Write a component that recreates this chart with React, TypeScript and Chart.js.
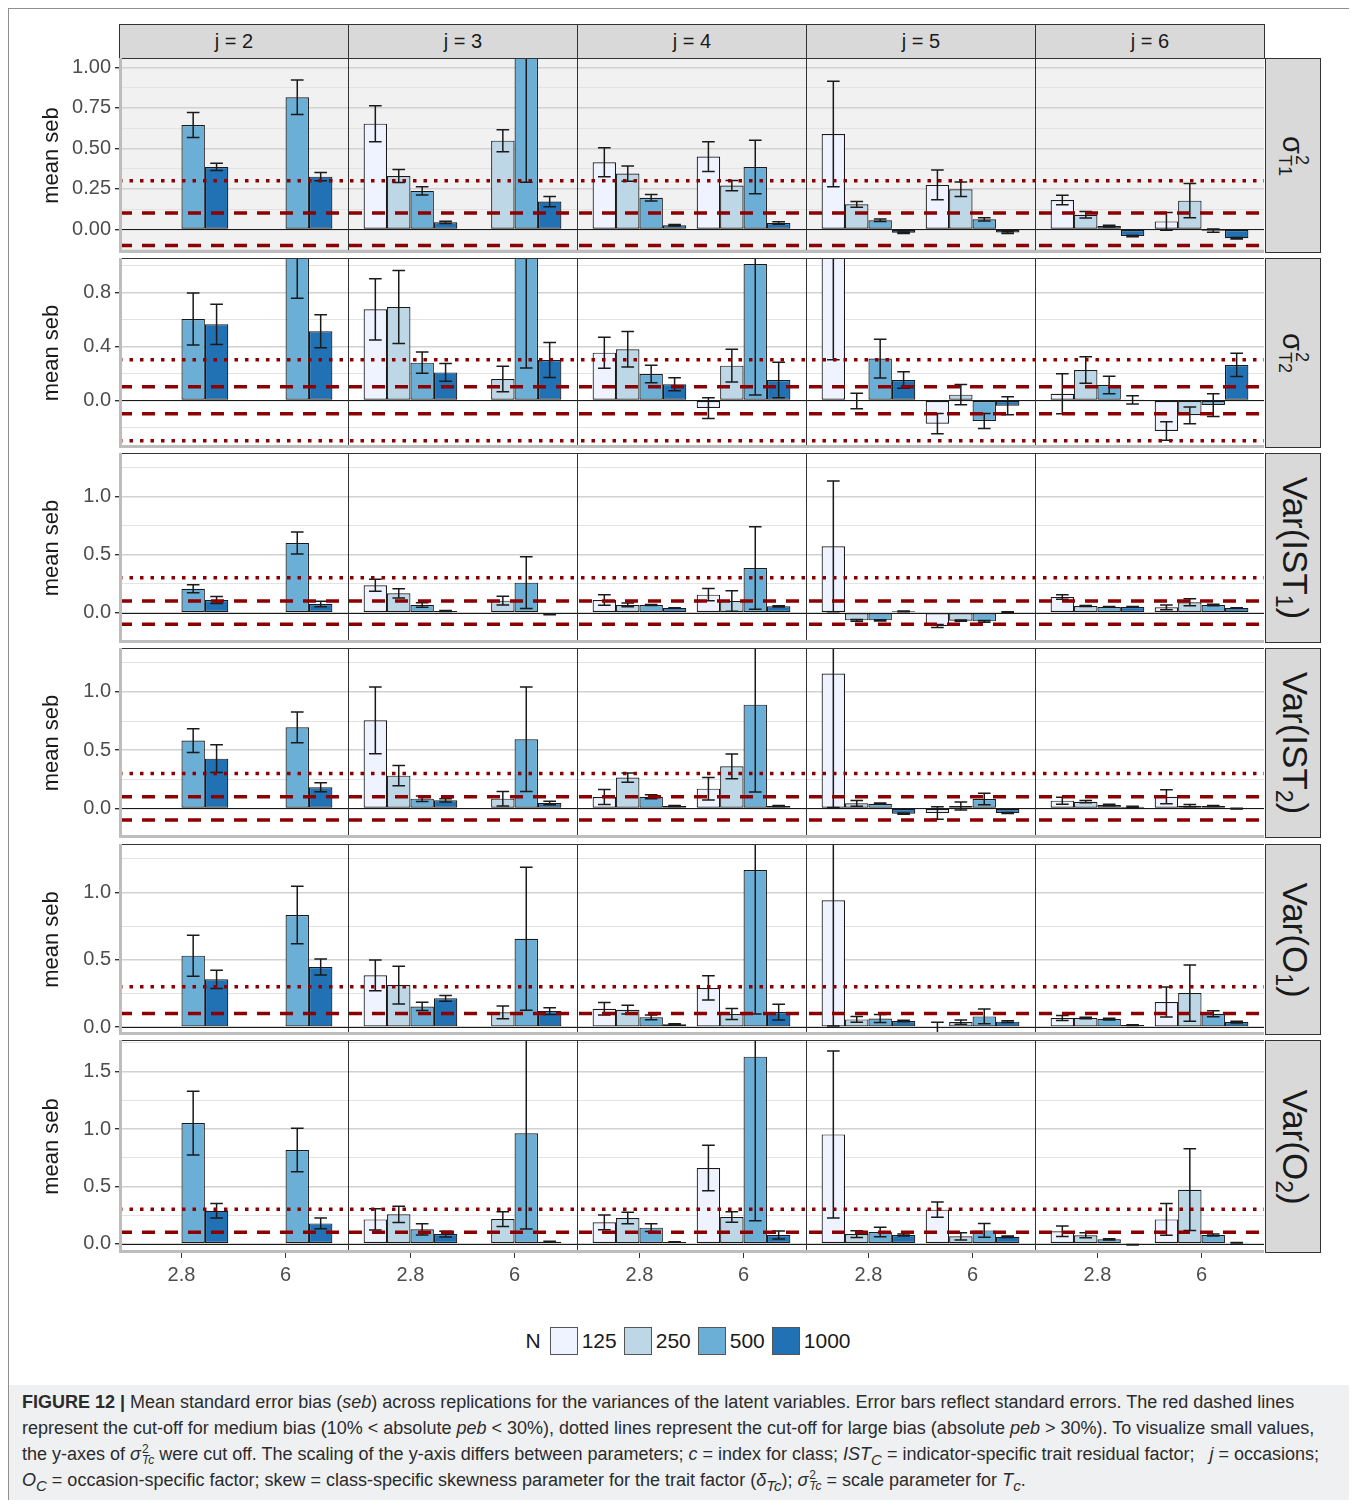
import React, { useEffect, useRef } from 'react';
import { Chart, registerables } from 'chart.js';

Chart.register(...registerables);

const FONT = '"Liberation Sans", Arial, Helvetica, sans-serif';

// ---- facets and groups ----
const occasions = ['j = 2', 'j = 3', 'j = 4', 'j = 5', 'j = 6'];
const skewLabels = ['2.8', '6'];
const skewPositions = [1, 2];
const sampleSizes = ['125', '250', '500', '1000'];

// ---- mean seb per parameter: [occasion][N][skew 2.8, skew 6] ----
const sigmaT1Mean = [
  [[null, null], [null, null], [0.644, 0.815], [0.385, 0.325]],
  [[0.652, null], [0.329, 0.547], [0.237, 1.6], [0.043, 0.171]],
  [[0.414, 0.449], [0.344, 0.27], [0.195, 0.385], [0.025, 0.039]],
  [[0.588, 0.274], [0.154, 0.247], [0.056, 0.062], [-0.021, -0.02]],
  [[0.181, 0.049], [0.09, 0.177], [0.02, -0.008], [-0.041, -0.055]],
];
const sigmaT1Se = [
  [[null, null], [null, null], [0.077, 0.106], [0.022, 0.025]],
  [[0.111, null], [0.04, 0.068], [0.025, 1.31], [0.007, 0.032]],
  [[0.09, 0.092], [0.047, 0.032], [0.02, 0.165], [0.005, 0.008]],
  [[0.326, 0.092], [0.017, 0.045], [0.008, 0.01], [0.005, 0.005]],
  [[0.03, 0.055], [0.02, 0.105], [0.005, 0.01], [0.005, 0.005]],
];

const sigmaT2Mean = [
  [[null, null], [null, null], [0.602, 1.3], [0.563, 0.511]],
  [[0.674, null], [0.691, 0.158], [0.279, 1.8], [0.207, 0.299]],
  [[0.353, -0.057], [0.378, 0.257], [0.195, 1.01], [0.119, 0.151]],
  [[1.9, -0.173], [-0.005, 0.042], [0.309, -0.153], [0.151, -0.04]],
  [[0.049, -0.227], [0.225, -0.111], [0.114, -0.035], [0.003, 0.262]],
];
const sigmaT2Se = [
  [[null, null], [null, null], [0.193, 0.544], [0.149, 0.122]],
  [[0.227, null], [0.27, 0.094], [0.079, 1.56], [0.066, 0.13]],
  [[0.115, 0.077], [0.131, 0.121], [0.064, 0.97], [0.048, 0.131]],
  [[1.6, 0.075], [0.057, 0.075], [0.143, 0.056], [0.061, 0.066]],
  [[0.148, 0.069], [0.098, 0.062], [0.065, 0.084], [0.03, 0.086]],
];

const varIST1Mean = [
  [[null, null], [null, null], [0.206, 0.599], [0.109, 0.074]],
  [[0.235, null], [0.166, 0.103], [0.066, 0.258], [0.014, -0.014]],
  [[0.109, 0.155], [0.066, 0.1], [0.066, 0.384], [0.04, 0.054]],
  [[0.57, -0.115], [-0.066, -0.069], [-0.066, -0.075], [0.011, 0.006]],
  [[0.135, 0.046], [0.057, 0.089], [0.049, 0.066], [0.049, 0.04]],
];
const varIST1Se = [
  [[null, null], [null, null], [0.034, 0.095], [0.03, 0.024]],
  [[0.052, null], [0.04, 0.037], [0.02, 0.222], [0.005, 0.004]],
  [[0.046, 0.053], [0.016, 0.089], [0.005, 0.355], [0.003, 0.006]],
  [[0.562, 0.013], [0.007, 0.006], [0.005, 0.007], [0.003, 0.002]],
  [[0.02, 0.02], [0.005, 0.03], [0.003, 0.006], [0.003, 0.003]],
];

const varIST2Mean = [
  [[null, null], [null, null], [0.582, 0.696], [0.427, 0.181]],
  [[0.756, null], [0.281, 0.083], [0.083, 0.593], [0.069, 0.046]],
  [[0.097, 0.169], [0.264, 0.361], [0.1, 0.891], [0.02, 0.02]],
  [[1.158, -0.04], [0.043, 0.02], [0.04, 0.08], [-0.046, -0.04]],
  [[0.066, 0.1], [0.057, 0.023], [0.029, 0.02], [0.014, -0.003]],
];
const varIST2Se = [
  [[null, null], [null, null], [0.102, 0.132], [0.12, 0.039]],
  [[0.287, null], [0.087, 0.062], [0.024, 0.449], [0.014, 0.015]],
  [[0.064, 0.097], [0.039, 0.106], [0.017, 0.75], [0.004, 0.004]],
  [[1.15, 0.053], [0.025, 0.035], [0.006, 0.049], [0.005, 0.005]],
  [[0.03, 0.06], [0.01, 0.01], [0.006, 0.004], [0.004, 0.003]],
];

const varO1Mean = [
  [[null, null], [null, null], [0.53, 0.832], [0.354, 0.446]],
  [[0.384, null], [0.312, 0.109], [0.153, 0.656], [0.213, 0.119]],
  [[0.136, 0.29], [0.129, 0.097], [0.072, 1.166], [0.02, 0.111]],
  [[0.941, -0.004], [0.057, 0.037], [0.064, 0.079], [0.045, 0.04]],
  [[0.067, 0.186], [0.067, 0.252], [0.059, 0.099], [0.015, 0.037]],
];
const varO1Se = [
  [[null, null], [null, null], [0.152, 0.214], [0.068, 0.059]],
  [[0.114, null], [0.14, 0.047], [0.031, 0.531], [0.022, 0.025]],
  [[0.046, 0.09], [0.032, 0.04], [0.017, 1.07], [0.004, 0.059]],
  [[0.933, 0.039], [0.021, 0.016], [0.03, 0.055], [0.006, 0.006]],
  [[0.018, 0.111], [0.006, 0.208], [0.006, 0.022], [0.003, 0.006]],
];

const varO2Mean = [
  [[null, null], [null, null], [1.052, 0.817], [0.288, 0.177]],
  [[0.212, null], [0.256, 0.215], [0.125, 0.962], [0.084, 0.017]],
  [[0.186, 0.66], [0.224, 0.233], [0.14, 1.631], [0.015, 0.076]],
  [[0.953, 0.297], [0.084, 0.064], [0.102, 0.116], [0.076, 0.061]],
  [[0.108, 0.212], [0.073, 0.471], [0.038, 0.076], [-0.009, 0.009]],
];
const varO2Se = [
  [[null, null], [null, null], [0.278, 0.189], [0.063, 0.047]],
  [[0.093, null], [0.071, 0.064], [0.048, 0.834], [0.025, 0.004]],
  [[0.064, 0.198], [0.051, 0.045], [0.034, 1.43], [0.003, 0.035]],
  [[0.728, 0.066], [0.03, 0.032], [0.041, 0.06], [0.008, 0.006]],
  [[0.046, 0.138], [0.022, 0.356], [0.005, 0.008], [0.002, 0.002]],
];

// ---- y axis ticks (labelled) and grid lines per parameter ----
const ticksSigmaT1 = [0, 0.25, 0.5, 0.75, 1.0];
const labelsSigmaT1 = ['0.00', '0.25', '0.50', '0.75', '1.00'];
const gridSigmaT1 = [-0.125, 0, 0.125, 0.25, 0.375, 0.5, 0.625, 0.75, 0.875, 1.0];

const ticksSigmaT2 = [0, 0.4, 0.8];
const labelsSigmaT2 = ['0.0', '0.4', '0.8'];
const gridSigmaT2 = [-0.2, 0, 0.2, 0.4, 0.6, 0.8, 1.0];

const ticksVar = [0, 0.5, 1.0];
const labelsVar = ['0.0', '0.5', '1.0'];
const gridVar = [-0.25, 0, 0.25, 0.5, 0.75, 1.0, 1.25];

const ticksVarO2 = [0, 0.5, 1.0, 1.5];
const labelsVarO2 = ['0.0', '0.5', '1.0', '1.5'];
const gridVarO2 = [0, 0.25, 0.5, 0.75, 1.0, 1.25, 1.5, 1.75];

// bias cut-offs: medium (dashed) and large (dotted)
const mediumBias = [0.1, -0.1];
const largeBias = [0.3, -0.3];

const barFills = ['#eff3ff', '#bdd7e7', '#6baed6', '#2171b5'];

type Row = {
  mean: (number | null)[][][];
  se: (number | null)[][][];
  yMin: number;
  yMax: number;
  ticks: number[];
  labels: string[];
  grid: number[];
  fill: string | null;
  top: number;
  height: number;
  strip: { kind: 'sigma' | 'var'; base: string; sub: string };
};

// page geometry (page pixels, body margin included)
const PANEL_LEFT = 119;
const PANEL_W = 229;
const Y_AXIS_W = 89;
const X_AXIS_H = 42;
const OFF = 8;

const rows: Row[] = [
  { mean: sigmaT1Mean, se: sigmaT1Se, yMin: -0.146, yMax: 1.057, ticks: ticksSigmaT1, labels: labelsSigmaT1, grid: gridSigmaT1, fill: '#f1f1f1', top: 58, height: 195, strip: { kind: 'sigma', base: 'σ', sub: 'T1' } },
  { mean: sigmaT2Mean, se: sigmaT2Se, yMin: -0.353, yMax: 1.054, ticks: ticksSigmaT2, labels: labelsSigmaT2, grid: gridSigmaT2, fill: null, top: 258, height: 190, strip: { kind: 'sigma', base: 'σ', sub: 'T2' } },
  { mean: varIST1Mean, se: varIST1Se, yMin: -0.261, yMax: 1.373, ticks: ticksVar, labels: labelsVar, grid: gridVar, fill: null, top: 453, height: 190, strip: { kind: 'var', base: 'IST', sub: '1' } },
  { mean: varIST2Mean, se: varIST2Se, yMin: -0.255, yMax: 1.378, ticks: ticksVar, labels: labelsVar, grid: gridVar, fill: null, top: 648, height: 190, strip: { kind: 'var', base: 'IST', sub: '2' } },
  { mean: varO1Mean, se: varO1Se, yMin: -0.059, yMax: 1.359, ticks: ticksVar, labels: labelsVar, grid: gridVar, fill: null, top: 844, height: 191, strip: { kind: 'var', base: 'O', sub: '1' } },
  { mean: varO2Mean, se: varO2Se, yMin: -0.081, yMax: 1.776, ticks: ticksVarO2, labels: labelsVarO2, grid: gridVarO2, fill: null, top: 1040, height: 213, strip: { kind: 'var', base: 'O', sub: '2' } },
];

const near = (a: number, b: number) => Math.abs(a - b) < 1e-6;

// Draws error bars, the zero line, bias cut-offs and the panel frame.
const panelDecor = {
  id: 'panelDecor',
  beforeDraw(chart: any, _args: any, opts: any) {
    if (!opts.fill) return;
    const { ctx, chartArea: a } = chart;
    ctx.save();
    ctx.fillStyle = opts.fill;
    ctx.fillRect(a.left, a.top, a.right - a.left, a.bottom - a.top);
    ctx.restore();
  },
  afterDatasetsDraw(chart: any, _args: any, opts: any) {
    const { ctx, chartArea: a } = chart;
    const y = chart.scales.y;
    ctx.save();
    ctx.beginPath();
    ctx.rect(a.left, a.top, a.right - a.left, a.bottom - a.top);
    ctx.clip();

    // error bars
    ctx.strokeStyle = '#1a1a1a';
    ctx.lineWidth = 1.5;
    ctx.setLineDash([]);
    chart.data.datasets.forEach((ds: any, i: number) => {
      const meta = chart.getDatasetMeta(i);
      meta.data.forEach((bar: any, j: number) => {
        const v = ds.data[j].y;
        const e = ds.errors[j];
        if (v == null || e == null) return;
        const t = y.getPixelForValue(v + e);
        const b = y.getPixelForValue(v - e);
        const half = bar.width * 0.27;
        ctx.beginPath();
        ctx.moveTo(bar.x, t);
        ctx.lineTo(bar.x, b);
        ctx.moveTo(bar.x - half, t);
        ctx.lineTo(bar.x + half, t);
        ctx.moveTo(bar.x - half, b);
        ctx.lineTo(bar.x + half, b);
        ctx.stroke();
      });
    });

    // zero line
    const y0 = Math.round(y.getPixelForValue(0)) + 0.5;
    ctx.strokeStyle = '#1a1a1a';
    ctx.lineWidth = 1.2;
    ctx.beginPath();
    ctx.moveTo(a.left, y0);
    ctx.lineTo(a.right, y0);
    ctx.stroke();

    // bias cut-offs, dash phase continuous across panels
    const phaseX = opts.pageLeft + a.left - PANEL_LEFT;
    const drawCut = (vals: number[], dash: number[]) => {
      const period = dash[0] + dash[1];
      ctx.setLineDash(dash);
      ctx.lineDashOffset = ((phaseX % period) + period) % period;
      vals.forEach((v) => {
        const py = y.getPixelForValue(v);
        ctx.beginPath();
        ctx.moveTo(a.left, py);
        ctx.lineTo(a.right, py);
        ctx.stroke();
      });
    };
    ctx.strokeStyle = '#8b0000';
    ctx.lineWidth = 3.5;
    ctx.lineCap = 'butt';
    drawCut(mediumBias, [13, 10]);
    drawCut(largeBias, [3.5, 7]);
    ctx.restore();

    // frame
    ctx.save();
    ctx.setLineDash([]);
    ctx.strokeStyle = '#333333';
    ctx.lineWidth = 1;
    ctx.beginPath();
    ctx.moveTo(a.left, a.top + 0.5);
    ctx.lineTo(a.right, a.top + 0.5);
    if (opts.col > 0) {
      ctx.moveTo(a.left + 0.5, a.top);
      ctx.lineTo(a.left + 0.5, a.bottom);
    }
    ctx.stroke();
    ctx.strokeStyle = '#bdbdbd';
    ctx.lineWidth = 3;
    ctx.beginPath();
    ctx.moveTo(a.left, a.bottom - 1.5);
    ctx.lineTo(a.right, a.bottom - 1.5);
    if (opts.col === 0) {
      ctx.moveTo(a.left + 1.5, a.top);
      ctx.lineTo(a.left + 1.5, a.bottom);
    }
    ctx.stroke();
    ctx.restore();
  },
};

function buildConfig(r: number, c: number, pageLeft: number): any {
  const row = rows[r];
  const isLeft = c === 0;
  const isBottom = r === rows.length - 1;
  const isMajor = (v: number) => row.ticks.some((t) => near(t, v));
  return {
    type: 'bar',
    data: {
      datasets: sampleSizes.map((n, k) => ({
        label: n,
        data: skewPositions.map((x, s) => ({ x, y: row.mean[c][k][s] })),
        errors: row.se[c][k],
        backgroundColor: barFills[k],
        borderColor: '#1a1a1a',
        borderWidth: 1.2,
        borderSkipped: false,
        categoryPercentage: 0.9,
        barPercentage: 1,
      })),
    },
    options: {
      responsive: false,
      animation: false,
      devicePixelRatio: 1,
      layout: { padding: 0 },
      events: [],
      plugins: {
        legend: { display: false },
        tooltip: { enabled: false },
        panelDecor: { fill: row.fill, col: c, pageLeft },
      },
      scales: {
        x: {
          type: 'linear',
          min: 0.4,
          max: 2.6,
          offset: false,
          display: isBottom,
          afterBuildTicks: (s: any) => {
            s.ticks = skewPositions.map((v) => ({ value: v }));
          },
          afterFit: (s: any) => {
            s.height = isBottom ? X_AXIS_H : 0;
            s.paddingLeft = 0;
            s.paddingRight = 0;
          },
          grid: { display: true, offset: false, drawOnChartArea: false, drawTicks: true, tickLength: 5, tickColor: '#333333', lineWidth: 1 },
          border: { display: false },
          ticks: {
            autoSkip: false,
            maxRotation: 0,
            padding: 5,
            color: '#4d4d4d',
            font: { family: FONT, size: 20 },
            callback: (v: number) => {
              const i = skewPositions.findIndex((p) => near(p, v));
              return i >= 0 ? skewLabels[i] : '';
            },
          },
        },
        y: {
          type: 'linear',
          min: row.yMin,
          max: row.yMax,
          afterBuildTicks: (s: any) => {
            s.ticks = row.grid.map((v) => ({ value: v }));
          },
          afterFit: (s: any) => {
            s.width = isLeft ? Y_AXIS_W : 0;
            s.paddingTop = 0;
            s.paddingBottom = 0;
          },
          grid: {
            color: (ctx: any) => (isMajor(ctx.tick.value) ? '#d2d2d2' : '#e3e3e3'),
            lineWidth: (ctx: any) => (isMajor(ctx.tick.value) ? 1.4 : 1),
            drawTicks: isLeft,
            tickLength: 4,
            tickColor: (ctx: any) => (isMajor(ctx.tick.value) ? '#333333' : 'rgba(0,0,0,0)'),
          },
          border: { display: false },
          ticks: {
            display: isLeft,
            autoSkip: false,
            padding: 4,
            color: '#4d4d4d',
            font: { family: FONT, size: 20 },
            callback: (v: number) => {
              const i = row.ticks.findIndex((t) => near(t, v));
              return i >= 0 ? row.labels[i] : '';
            },
          },
          title: {
            display: isLeft,
            text: 'mean seb',
            color: '#1a1a1a',
            font: { family: FONT, size: 22 },
            padding: { top: 9, bottom: 0 },
          },
        },
      },
    },
    plugins: [panelDecor],
  };
}

function Panel({ r, c }: { r: number; c: number }) {
  const ref = useRef<HTMLCanvasElement>(null);
  const row = rows[r];
  const isLeft = c === 0;
  const isBottom = r === rows.length - 1;
  const pageLeft = PANEL_LEFT + c * PANEL_W - (isLeft ? Y_AXIS_W : 0);
  const width = PANEL_W + (isLeft ? Y_AXIS_W : 0);
  const height = row.height + (isBottom ? X_AXIS_H : 0);
  useEffect(() => {
    const chart = new Chart(ref.current as HTMLCanvasElement, buildConfig(r, c, pageLeft));
    return () => chart.destroy();
  }, [r, c, pageLeft]);
  return (
    <canvas
      ref={ref}
      width={width}
      height={height}
      style={{ position: 'absolute', left: pageLeft - OFF, top: row.top - OFF, width, height }}
    />
  );
}

const stripBox: React.CSSProperties = {
  position: 'absolute',
  boxSizing: 'border-box',
  background: '#d9d9d9',
  border: '1px solid #333333',
  display: 'flex',
  alignItems: 'center',
  justifyContent: 'center',
  color: '#1a1a1a',
  fontFamily: FONT,
};

function RowStrip({ row }: { row: Row }) {
  const s = row.strip;
  return (
    <div style={{ ...stripBox, left: 1265 - OFF, top: row.top - OFF, width: 56, height: row.height }}>
      <span style={{ transform: 'rotate(90deg)', whiteSpace: 'nowrap', display: 'inline-flex', alignItems: 'center' }}>
        {s.kind === 'sigma' ? (
          <>
            <span style={{ fontSize: 29, lineHeight: '29px' }}>{s.base}</span>
            <span style={{ display: 'inline-flex', flexDirection: 'column', fontSize: 18, lineHeight: '17px', marginLeft: 1 }}>
              <span>2</span>
              <span>{s.sub}</span>
            </span>
          </>
        ) : (
          <span style={{ fontSize: 35, lineHeight: '36px' }}>
            Var({s.base}
            <span style={{ fontSize: 23, position: 'relative', top: 7 }}>{s.sub}</span>)
          </span>
        )}
      </span>
    </div>
  );
}

function SigmaTc() {
  return (
    <span style={{ whiteSpace: 'nowrap' }}>
      <i>σ</i>
      <span style={{ display: 'inline-flex', flexDirection: 'column', fontSize: 12, lineHeight: '11px', verticalAlign: 'middle', marginLeft: 1 }}>
        <span>2</span>
        <i>Tc</i>
      </span>
    </span>
  );
}

const captionLine: React.CSSProperties = { whiteSpace: 'nowrap', height: 26, lineHeight: '26px' };

export default function App() {
  return (
    <div style={{ position: 'relative', width: 1342, height: 1492, fontFamily: FONT }}>
      <div style={{ position: 'absolute', left: 0, top: 0, width: 1342, height: 1492, boxSizing: 'border-box', border: '1px solid #8f8f8f' }} />

      {occasions.map((o, c) => (
        <div key={o} style={{ ...stripBox, left: PANEL_LEFT + c * PANEL_W - OFF, top: 24 - OFF, width: PANEL_W + 1, height: 35, fontSize: 20 }}>
          {o}
        </div>
      ))}

      {rows.map((row, r) => (
        <React.Fragment key={r}>
          {occasions.map((_, c) => (
            <Panel key={c} r={r} c={c} />
          ))}
          <RowStrip row={row} />
        </React.Fragment>
      ))}

      <div style={{ position: 'absolute', left: PANEL_LEFT - OFF, width: PANEL_W * 5, top: 1326 - OFF, height: 29, display: 'flex', justifyContent: 'center', alignItems: 'center', fontSize: 21, color: '#1a1a1a' }}>
        <span style={{ marginRight: 9 }}>N</span>
        {sampleSizes.map((n, k) => (
          <span key={n} style={{ display: 'inline-flex', alignItems: 'center' }}>
            <span style={{ width: 28, height: 28, boxSizing: 'border-box', border: '1.5px solid #555555', background: barFills[k] }} />
            <span style={{ marginLeft: 4, marginRight: 7 }}>{n}</span>
          </span>
        ))}
      </div>

      <div style={{ position: 'absolute', left: 1, top: 1385 - OFF, width: 1340, height: 1500 - 1385, background: '#eef0f2', boxSizing: 'border-box', padding: '4px 0 0 13px', fontSize: 18, color: '#2b2b2b' }}>
        <div style={captionLine}>
          <b>FIGURE 12 |</b> Mean standard error bias (<i>seb</i>) across replications for the variances of the latent variables. Error bars reflect standard errors. The red dashed lines
        </div>
        <div style={captionLine}>
          represent the cut-off for medium bias (10% &lt; absolute <i>peb</i> &lt; 30%), dotted lines represent the cut-off for large bias (absolute <i>peb</i> &gt; 30%). To visualize small values,
        </div>
        <div style={captionLine}>
          the y-axes of <SigmaTc /> were cut off. The scaling of the y-axis differs between parameters; <i>c</i> = index for class; <i>IST<sub>C</sub></i> = indicator-specific trait residual factor;&nbsp;&nbsp; <i>j</i> = occasions;
        </div>
        <div style={captionLine}>
          <i>O<sub>C</sub></i> = occasion-specific factor; skew = class-specific skewness parameter for the trait factor (<i>δ<sub>Tc</sub></i>); <SigmaTc /> = scale parameter for <i>T<sub>c</sub></i>.
        </div>
      </div>
    </div>
  );
}
